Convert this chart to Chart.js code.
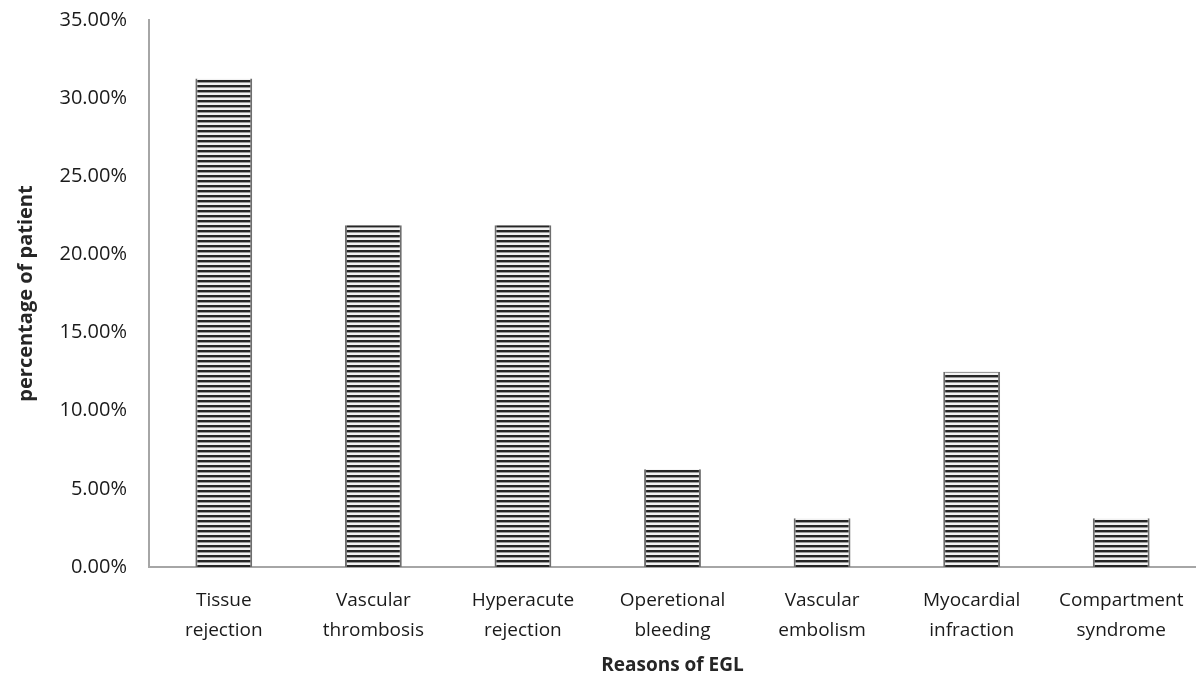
<!DOCTYPE html>
<html>
<head>
<meta charset="utf-8">
<script src="https://cdn.jsdelivr.net/npm/chart.js@4/dist/chart.umd.min.js"></script>
<style>
  html, body { margin: 0; padding: 0; background: #fff; }
  #wrap { width: 1196px; height: 677px; }
</style>
</head>
<body>
<div id="wrap"><canvas id="eglChart"></canvas></div>
<script>
// Data
const reasons = [
    ["Tissue", "rejection"],
    ["Vascular", "thrombosis"],
    ["Hyperacute", "rejection"],
    ["Operetional", "bleeding"],
    ["Vascular", "embolism"],
    ["Myocardial", "infraction"],
    ["Compartment", "syndrome"]
];
const percent_patient = [31.25, 21.875, 21.875, 6.25, 3.125, 12.5, 3.125];
const y_ticks = [0, 5, 10, 15, 20, 25, 30, 35];

// garis horizontal untuk isi batang
function stripePattern() {
    const c = document.createElement("canvas");
    c.width = 4;
    c.height = 5;
    const g = c.getContext("2d");
    g.fillStyle = "#f2f2f2";
    g.fillRect(0, 0, 4, 5);
    g.fillStyle = "#262626";
    g.fillRect(0, 0, 4, 2);
    g.fillStyle = "#9a9a9a";
    g.fillRect(0, 2, 4, 1);
    return g.createPattern(c, "repeat");
}

const font = "'Open Sans', 'Noto Sans', sans-serif";

new Chart(document.getElementById("eglChart"), {
    type: "bar",
    data: {
        labels: reasons,
        datasets: [{
            label: "percentage of patient",
            data: percent_patient,
            backgroundColor: stripePattern(),
            borderColor: "#6e6e6e",
            borderWidth: { left: 2, right: 2, top: 0, bottom: 0 },
            borderSkipped: false,
            categoryPercentage: 1,
            barPercentage: 0.38
        }]
    },
    options: {
        responsive: true,
        maintainAspectRatio: false,
        animation: false,
        layout: { padding: { top: 20, right: 0, left: 0, bottom: 0 } },
        plugins: {
            legend: { display: false },
            tooltip: { enabled: false }
        },
        scales: {
            x: {
                grid: { display: false, drawTicks: false },
                border: { display: true, color: "#a6a6a6", width: 2 },
                ticks: {
                    color: "#1a1a1a",
                    font: { family: font, size: 19, lineHeight: 1.55 },
                    padding: 19,
                    maxRotation: 0,
                    autoSkip: false
                },
                title: {
                    display: true,
                    text: "Reasons of EGL",
                    color: "#262626",
                    font: { family: font, size: 19, weight: "bold" },
                    padding: { top: 0, bottom: 0 }
                },
                afterFit: (s) => { s.height = 110; s.paddingLeft = 0; s.paddingRight = 0; }
            },
            y: {
                min: 0,
                max: 35,
                afterBuildTicks: (s) => { s.ticks = y_ticks.map(v => ({ value: v })); },
                grid: { display: false, drawTicks: false },
                border: { display: true, color: "#a6a6a6", width: 2 },
                ticks: {
                    color: "#1a1a1a",
                    font: { family: font, size: 20 },
                    padding: 22,
                    callback: (v) => v.toFixed(2) + "%"
                },
                title: {
                    display: true,
                    text: "percentage of patient",
                    color: "#262626",
                    font: { family: font, size: 20, weight: "bold" },
                    padding: { top: 14, bottom: 4 }
                },
                afterFit: (s) => { s.width = 149; s.paddingTop = 0; s.paddingBottom = 0; }
            }
        }
    }
});
</script>
</body>
</html>
